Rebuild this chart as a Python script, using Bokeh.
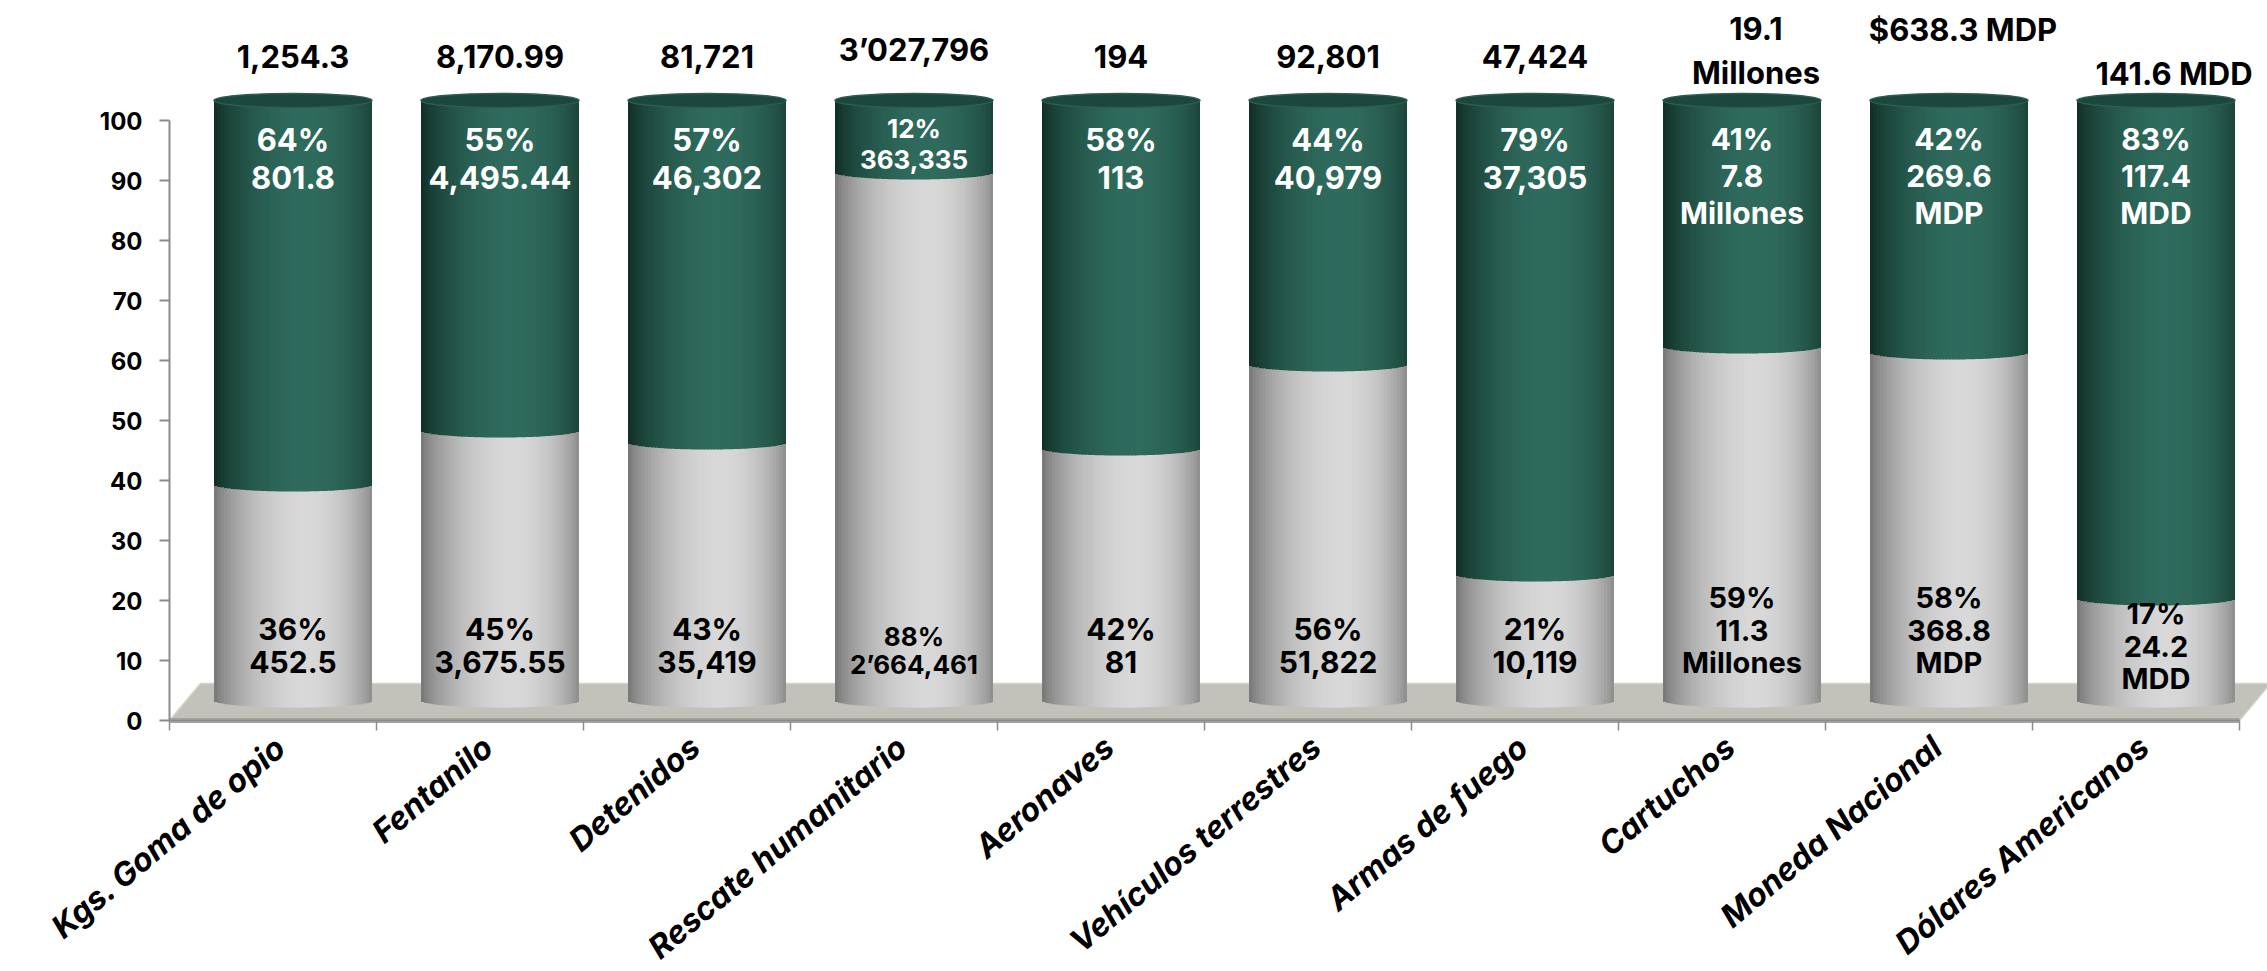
import math
from bokeh.plotting import figure
from bokeh.models import ColumnDataSource, Range1d
from bokeh.core.properties import value
from bokeh.embed import file_html
from bokeh.resources import INLINE

# ---------------- data ----------------
categories = ["Kgs. Goma de opio", "Fentanilo", "Detenidos", "Rescate humanitario",
              "Aeronaves", "Vehículos terrestres", "Armas de fuego", "Cartuchos",
              "Moneda Nacional", "Dólares Americanos"]
pct_grey = [36, 45, 43, 88, 42, 56, 21, 59, 58, 17]
pct_green = [64, 55, 57, 12, 58, 44, 79, 41, 42, 83]
totals = ["1,254.3", "8,170.99", "81,721", "3’027,796", "194", "92,801", "47,424",
          "19.1\nMillones", "$638.3 MDP", "141.6 MDD"]
grey_values = ["452.5", "3,675.55", "35,419", "2’664,461", "81", "51,822", "10,119",
               "11.3\nMillones", "368.8\nMDP", "24.2\nMDD"]
green_values = ["801.8", "4,495.44", "46,302", "363,335", "113", "40,979", "37,305",
                "7.8\nMillones", "269.6\nMDP", "117.4\nMDD"]
y_ticks = [0, 10, 20, 30, 40, 50, 60, 70, 80, 90, 100]

# ---------------- layout / style ----------------
FONT = "Inter"
FIG_W, FIG_H = 2267, 971
PX_CAT = 207.0               # px per category
PX_Y = 6.0                   # px per percentage point
AXIS_X_PX = 169              # px from left to the value axis
ZERO_Y_PX = 720              # px from top to value 0
X_START = -AXIS_X_PX / PX_CAT
X_END = (FIG_W - AXIS_X_PX) / PX_CAT
Y_START = -(FIG_H - ZERO_Y_PX) / PX_Y
Y_END = ZERO_Y_PX / PX_Y
DEPTH_PX = 20
BAR_W = 158 / PX_CAT
CAP_H = 14
N_STRIPS = 48
HIGHLIGHT = 0.18
FLOOR_DX, FLOOR_DY = 31 / PX_CAT, 37 / PX_Y
TICK_PX = 10
TOTAL_LIFT = [33, 33, 33, 33, 33, 33, 33, 9, 53, 9]
TOTAL_DX = [0, 0, 0, 0, 0, 0, 0, 14, 14, 18]
GREEN_DY = [20, 20, 20, 12, 20, 20, 20, 20, 20, 20]
GREY_DY = [-20, -20, -20, -20, -20, -20, -20, -20, -20, -4]
GREEN_SIZE = ["31px"] * 3 + ["26px"] + ["31px"] * 3 + ["30px", "30px", "30px"]
GREY_SIZE = ["30px"] * 3 + ["26px"] + ["30px"] * 3 + ["29px", "29px", "29px"]
GREY_L, GREY_HI, GREY_R = (0x72, 0x72, 0x72), (0xd8, 0xd8, 0xd8), (0x88, 0x88, 0x88)
GREEN_L, GREEN_HI, GREEN_R = (0x10, 0x2b, 0x23), (0x2f, 0x6b, 0x5d), (0x1a, 0x42, 0x38)
AXIS_GREY = "#8c8c8c"


def mix(c1, c2, t):
    return "#%02x%02x%02x" % tuple(int(round(a + (b - a) * t)) for a, b in zip(c1, c2))


def shade(u, dl, hi, dr):
    if u <= HIGHLIGHT:
        s, side = (u + 1) / (HIGHLIGHT + 1), dl
    else:
        s, side = (1 - u) / (1 - HIGHLIGHT), dr
    return mix(side, hi, math.sin(math.pi / 2 * max(s, 0)) ** 0.7)


p = figure(width=FIG_W, height=FIG_H, output_backend="svg", toolbar_location=None,
           x_range=Range1d(X_START, X_END), y_range=Range1d(Y_START, Y_END),
           x_axis_location=None, y_axis_location=None,
           min_border_left=0, min_border_right=0, min_border_top=0,
           min_border_bottom=0)
p.outline_line_color = None
p.xgrid.visible = False
p.ygrid.visible = False
p.background_fill_color = "white"
p.border_fill_color = "white"

sx = DEPTH_PX / PX_CAT
sy = DEPTH_PX / PX_Y
p.extra_x_ranges = {"bars": Range1d(X_START - sx, X_END - sx)}
p.extra_y_ranges = {"bars": Range1d(Y_START - sy, Y_END - sy)}

n = len(categories)
centers = [i + 0.5 for i in range(n)]
boundaries = list(range(n + 1))

# floor
p.patch(x=[0, n, n + FLOOR_DX, FLOOR_DX], y=[0, 0, FLOOR_DY, FLOOR_DY],
        fill_color="#c2c2ba", line_color="#d2d2ca", line_width=1.5)
p.line(x=[0, n], y=[0, 0], line_color="#a4a49c", line_width=5)
p.line(x=[0, n], y=[0, 0], line_color=AXIS_GREY, line_width=1.5)
# category boundary ticks below the floor
p.segment(x0=boundaries, x1=boundaries, y0=[0] * (n + 1),
          y1=[-TICK_PX / PX_Y] * (n + 1), line_color=AXIS_GREY, line_width=1.5)

# value axis (drawn in data space so labels below may pass under it)
p.line(x=[0, 0], y=[y_ticks[0], y_ticks[-1]], line_color=AXIS_GREY, line_width=2)
p.segment(x0=[-TICK_PX / PX_CAT] * len(y_ticks), x1=[0] * len(y_ticks),
          y0=y_ticks, y1=y_ticks, line_color=AXIS_GREY, line_width=2)
p.text(x=[0] * len(y_ticks), y=y_ticks, text=[str(t) for t in y_ticks],
       x_offset=-27, text_align="right", text_baseline="middle",
       text_font=value(FONT), text_font_style="bold", text_font_size="24px",
       text_color="black")

# cylinder strips (overlapping so no seams show)
curve_units = (CAP_H / 2) / PX_Y
step = 2 / N_STRIPS
L, R, B, T, C = [], [], [], [], []
for i in range(n):
    g = pct_grey[i]
    top = g + pct_green[i]
    for k in range(N_STRIPS):
        u = -1 + (2 * k + 1) / N_STRIPS
        u_right = min(1.0, u + step)
        left = centers[i] + (u - step / 2) * BAR_W / 2
        right = centers[i] + u_right * BAR_W / 2
        cv = curve_units * math.sqrt(max(0.0, 1 - u * u))
        L.append(left); R.append(right); B.append(0 - cv); T.append(g - cv)
        C.append(shade(u, GREY_L, GREY_HI, GREY_R))
        L.append(left); R.append(right); B.append(g - cv); T.append(top)
        C.append(shade(u, GREEN_L, GREEN_HI, GREEN_R))
strips = ColumnDataSource(dict(left=L, right=R, bottom=B, top=T, color=C))
p.quad(left="left", right="right", bottom="bottom", top="top", source=strips,
       fill_color="color", line_color=None,
       x_range_name="bars", y_range_name="bars")

# top caps
cap_y = [pct_grey[i] + pct_green[i] for i in range(n)]
p.ellipse(x=centers, y=cap_y, width=BAR_W, height=CAP_H, height_units="screen",
          fill_color="#1c473c", line_color="#2c5d50", line_width=1.5,
          x_range_name="bars", y_range_name="bars")

# value labels
tot_src = ColumnDataSource(dict(x=centers, y=cap_y, text=totals,
                                dx=TOTAL_DX, dy=[-v for v in TOTAL_LIFT]))
p.text(x="x", y="y", text="text", source=tot_src, x_offset="dx", y_offset="dy",
       text_align="center", text_baseline="bottom", text_font=value(FONT),
       text_font_style="bold", text_font_size="31px", text_color="black",
       text_line_height=1.2, x_range_name="bars", y_range_name="bars")

green_src = ColumnDataSource(dict(x=centers, y=cap_y,
                                  text=[f"{a}%\n{b}" for a, b in zip(pct_green, green_values)],
                                  size=GREEN_SIZE, dy=GREEN_DY))
p.text(x="x", y="y", text="text", source=green_src, y_offset="dy",
       text_align="center", text_baseline="top", text_font=value(FONT),
       text_font_style="bold", text_font_size="size", text_color="white",
       text_line_height=1.03, x_range_name="bars", y_range_name="bars")

grey_src = ColumnDataSource(dict(x=centers, y=[0] * n,
                                 text=[f"{a}%\n{b}" for a, b in zip(pct_grey, grey_values)],
                                 size=GREY_SIZE, dy=GREY_DY))
p.text(x="x", y="y", text="text", source=grey_src, y_offset="dy",
       text_align="center", text_baseline="bottom", text_font=value(FONT),
       text_font_style="bold", text_font_size="size", text_color="black",
       text_line_height=0.93, x_range_name="bars", y_range_name="bars")

# category labels (rotated, below the floor)
cat_src = ColumnDataSource(dict(x=centers, y=[0] * n, text=categories))
p.text(x="x", y="y", text="text", source=cat_src, x_offset=8, y_offset=22,
       angle=math.radians(40), text_align="right", text_baseline="middle",
       text_font=value(FONT), text_font_style="bold italic", text_font_size="32px",
       text_color="black")

open("out.html", "w").write(file_html(p, INLINE))
